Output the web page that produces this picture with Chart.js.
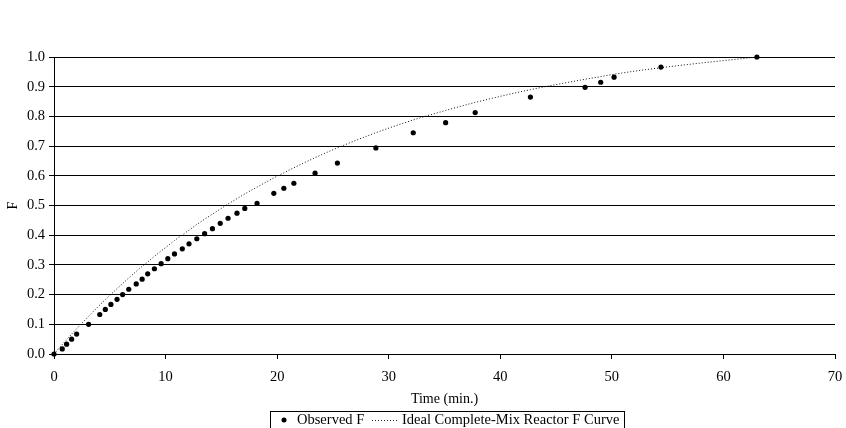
<!DOCTYPE html>
<html>
<head>
<meta charset="utf-8">
<script src="https://cdn.jsdelivr.net/npm/chart.js@4/dist/chart.umd.min.js"></script>
<style>
  html, body { margin: 0; padding: 0; background: #fff; }
  canvas { display: block; }
</style>
</head>
<body>
<canvas id="chart" width="846" height="428"></canvas>
<script>
// time of each sample (min.)
const times = [0, 0.74, 1.13, 1.58, 2.03, 3.1, 4.1, 4.6, 5.1, 5.65, 6.15, 6.7, 7.37, 7.9, 8.4, 9.0, 9.6, 10.2, 10.8, 11.5,
  12.1, 12.8, 13.5, 14.2, 14.9, 15.6, 16.4, 17.1, 18.2, 19.7, 20.6, 21.5, 23.4, 25.4, 28.85, 32.2, 35.1, 37.75,
  42.7, 47.6, 49.0, 50.2, 54.4, 63.0];
// observed F at each time
const observedF = [0, 0.017, 0.033, 0.05, 0.067, 0.10, 0.133, 0.15, 0.167, 0.184, 0.20, 0.218, 0.236, 0.252, 0.27, 0.287,
  0.304, 0.321, 0.337, 0.354, 0.371, 0.388, 0.405, 0.422, 0.44, 0.457, 0.474, 0.49, 0.507, 0.541, 0.558, 0.575,
  0.609, 0.643, 0.694, 0.745, 0.779, 0.813, 0.865, 0.898, 0.915, 0.932, 0.966, 1.0];
// ideal complete-mix curve read at the same times
const idealF = [0, 0.032, 0.048, 0.067, 0.085, 0.127, 0.165, 0.183, 0.201, 0.22, 0.237, 0.256, 0.278, 0.295, 0.31,
  0.329, 0.347, 0.364, 0.382, 0.401, 0.417, 0.436, 0.454, 0.471, 0.488, 0.505, 0.523, 0.539, 0.562, 0.593, 0.61,
  0.627, 0.661, 0.694, 0.745, 0.788, 0.82, 0.847, 0.89, 0.925, 0.934, 0.942, 0.964, 1.0];

const seriesNames = ['Observed F', 'Ideal Complete-Mix Reactor F Curve'];
const xTicks = [0, 10, 20, 30, 40, 50, 60, 70];

const serif = "'Liberation Serif', 'Times New Roman', serif";

const toPoints = (xs, ys) => xs.map((x, i) => ({ x, y: ys[i] }));

// legend in a framed box under the axis title
const boxLegend = {
  id: 'boxLegend',
  afterDraw(chart) {
    const ctx = chart.ctx;
    const top = chart.scales.x.bottom - 1;
    const left = 270, width = 354, height = 24;
    ctx.save();
    ctx.strokeStyle = '#000';
    ctx.lineWidth = 1;
    ctx.strokeRect(left + 0.5, top + 0.5, width, height);
    ctx.font = '14.5px ' + serif;
    ctx.fillStyle = '#000';
    ctx.textBaseline = 'middle';
    const cy = top + 9;
    ctx.beginPath();
    ctx.arc(284, cy, 2.5, 0, Math.PI * 2);
    ctx.fill();
    ctx.fillText(chart.data.datasets[0].label, 297, cy);
    ctx.strokeStyle = '#222';
    ctx.setLineDash([1, 2]);
    ctx.beginPath();
    ctx.moveTo(372, cy + 0.5);
    ctx.lineTo(399, cy + 0.5);
    ctx.stroke();
    ctx.setLineDash([]);
    ctx.fillText(chart.data.datasets[1].label, 402, cy);
    ctx.restore();
  }
};

new Chart(document.getElementById('chart'), {
  type: 'scatter',
  data: {
    datasets: [
      {
        label: seriesNames[0],
        data: toPoints(times, observedF),
        pointRadius: 2.6,
        pointBackgroundColor: '#000',
        pointBorderWidth: 0,
        showLine: false,
        clip: false,
        order: 0
      },
      {
        label: seriesNames[1],
        data: toPoints(times, idealF),
        showLine: true,
        pointRadius: 0,
        borderColor: '#111',
        borderWidth: 1,
        borderDash: [1, 2],
        cubicInterpolationMode: 'monotone',
        clip: false,
        order: 1
      }
    ]
  },
  options: {
    responsive: false,
    animation: false,
    layout: { padding: { top: 57, right: 11, bottom: 16, left: 0 } },
    plugins: {
      legend: { display: false },
      tooltip: { enabled: false }
    },
    scales: {
      x: {
        type: 'linear',
        min: 0, max: 70,
        afterBuildTicks: s => { s.ticks = xTicks.map(v => ({ value: v })); },
        afterFit: s => { s.height = 58; s.paddingLeft = 0; s.paddingRight = 0; },
        grid: { drawOnChartArea: false, color: '#000', tickLength: 5 },
        border: { color: '#000' },
        ticks: { color: '#000', font: { family: serif, size: 14.5 }, padding: 9, maxRotation: 0 },
        title: { display: true, text: 'Time (min.)', color: '#000', font: { family: serif, size: 14 }, padding: 4 }
      },
      y: {
        min: 0, max: 1,
        afterFit: s => { s.width = 54; },
        grid: { color: '#000', tickLength: 5 },
        border: { color: '#000' },
        ticks: { stepSize: 0.1, color: '#000', font: { family: serif, size: 14.5 }, padding: 4,
          callback: v => v.toFixed(1) },
        title: { display: true, text: 'F', color: '#000', font: { family: serif, size: 14 }, padding: 5 }
      }
    }
  },
  plugins: [boxLegend]
});
</script>
</body>
</html>
